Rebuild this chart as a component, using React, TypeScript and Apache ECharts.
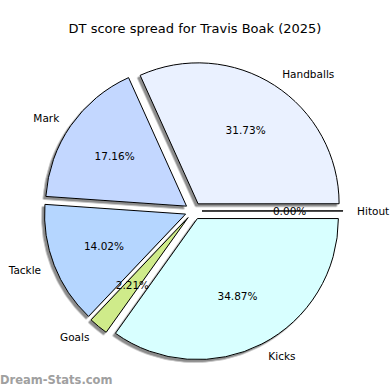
import React, { useEffect, useRef } from 'react';
import * as echarts from 'echarts';

const chartTitle = 'DT score spread for Travis Boak (2025)';
const watermark = 'Dream-Stats.com';
const categories = ['Hitout', 'Handballs', 'Mark', 'Tackle', 'Goals', 'Kicks'];
const shares = [0, 31.73, 17.16, 14.02, 2.21, 34.87];
const sliceColors = ['#FFFFFF', '#EAF1FF', '#C3D7FF', '#B5D6FF', '#CFEB8A', '#D8FFFF'];

const FONT = 'DejaVu Sans';
const R = 141;
const CENTER = [193.5, 211];
const EXPLODE = 8.5;

export default function App() {
  const ref = useRef<HTMLDivElement>(null);
  useEffect(() => {
    document.body.style.margin = '0';
    const chart = echarts.init(ref.current!, null, { renderer: 'svg' });
    const total = shares.reduce((a, b) => a + b, 0);
    const baseItem = {
      borderColor: '#000',
      borderWidth: 1,
      shadowColor: 'rgba(0,0,0,0.45)',
      shadowOffsetX: -2.5,
      shadowOffsetY: 2.5,
      shadowBlur: 0,
    };
    chart.setOption({
      animation: false,
      title: {
        text: chartTitle,
        left: 'center',
        top: 17,
        textStyle: { fontFamily: FONT, fontSize: 13, fontWeight: 'normal', color: '#000' },
      },
      graphic: [
        {
          type: 'text',
          left: 0,
          top: 374,
          style: { text: watermark, fill: '#a0a0a0', font: '600 11.5px "DejaVu Sans"' },
        },
      ],
      series: [
        {
          type: 'pie',
          startAngle: 0,
          clockwise: false,
          center: CENTER,
          radius: [0, R],
          minAngle: 0.05,
          selectedMode: 'multiple',
          selectedOffset: EXPLODE,
          avoidLabelOverlap: false,
          silent: true,
          itemStyle: baseItem,
          label: {
            show: true,
            position: 'outside',
            formatter: '{b}',
            color: '#000',
            fontSize: 10.5,
            fontFamily: FONT,
            distanceToLabelLine: 0,
          },
          labelLine: { show: false, length: R * 0.1, length2: 0 },
          emphasis: { disabled: true },
          select: { itemStyle: baseItem, label: { color: '#000' } },
          data: categories.map((name, i) => ({
            name,
            value: shares[i],
            selected: true,
            itemStyle: { color: sliceColors[i] },
            select: { itemStyle: { color: sliceColors[i] } },
          })),
        },
        {
          type: 'pie',
          startAngle: 0,
          clockwise: false,
          center: CENTER,
          radius: [R * 0.2, R],
          minAngle: 0.05,
          selectedMode: 'multiple',
          selectedOffset: EXPLODE,
          avoidLabelOverlap: false,
          silent: true,
          itemStyle: { color: 'rgba(0,0,0,0)', borderWidth: 0 },
          label: {
            show: true,
            position: 'inside',
            formatter: (p: any) => ((p.value / total) * 100).toFixed(2) + '%',
            color: '#000',
            fontSize: 10.5,
            fontFamily: FONT,
          },
          labelLine: { show: false },
          emphasis: { disabled: true },
          select: { itemStyle: { color: 'rgba(0,0,0,0)', borderWidth: 0 }, label: { color: '#000' } },
          data: categories.map((name, i) => ({ name, value: shares[i], selected: true })),
        },
      ],
    });
    return () => chart.dispose();
  }, []);
  return <div ref={ref} style={{ width: 390, height: 390 }} />;
}
